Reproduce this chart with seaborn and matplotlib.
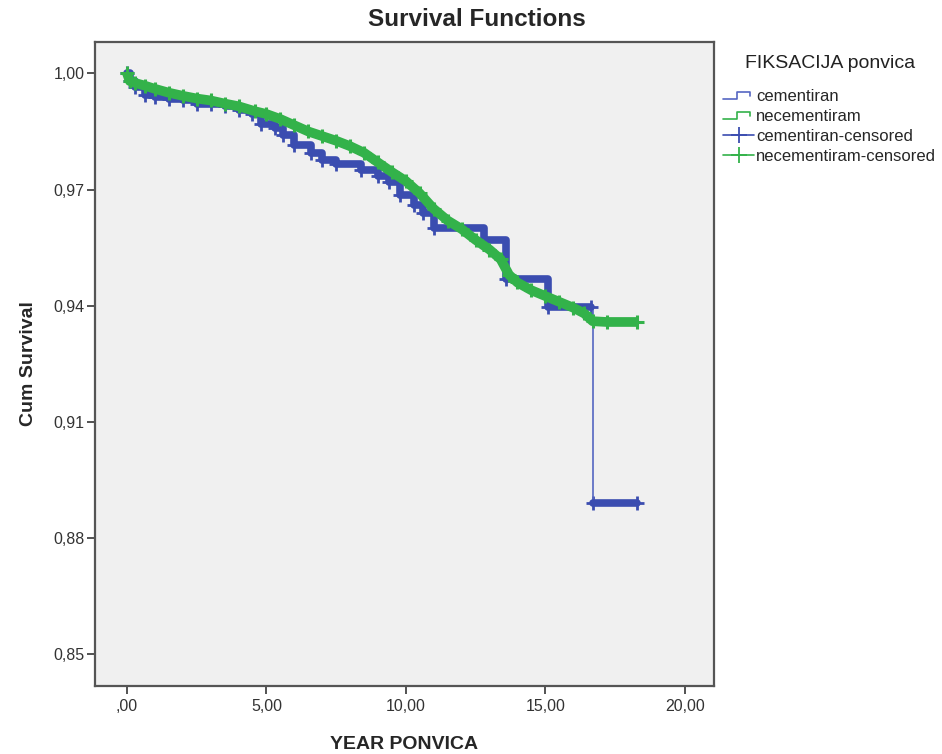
import numpy as np
import pandas as pd
import seaborn as sns
import matplotlib.pyplot as plt
from matplotlib.lines import Line2D
from matplotlib.legend_handler import HandlerBase

# Kaplan-Meier step knots (years, cum survival)
cem_time = [0.0, 0.1, 0.3, 0.65, 1.0, 1.5, 2.0, 2.5, 3.0, 3.5, 4.0, 4.5, 4.8,
            5.3, 5.6, 6.0, 6.6, 7.0, 7.5, 8.4, 9.0, 9.4, 9.8, 10.3, 10.6,
            11.0, 12.8, 13.6, 15.1, 16.65, 16.7, 16.72, 18.3]
cem_surv = [1.000, 0.998, 0.9965, 0.9945, 0.9938, 0.9934, 0.9930, 0.9922,
            0.9920, 0.9915, 0.9905, 0.9895, 0.9870, 0.9860, 0.9840, 0.9815,
            0.9795, 0.9775, 0.9765, 0.9750, 0.9735, 0.9720, 0.9685, 0.9660,
            0.9640, 0.9600, 0.9570, 0.9470, 0.9396, 0.9396, 0.915, 0.889, 0.889]

necem_time = [0.0, 0.1, 0.3, 0.65, 1.0, 1.5, 2.0, 2.5, 3.0, 3.5, 4.0, 4.6, 5.0,
              5.5, 6.0, 6.5, 7.0, 7.5, 8.0, 8.5, 9.0, 9.5, 10.0, 10.5, 11.0,
              11.5, 12.0, 12.5, 13.0, 13.4, 13.7, 14.0, 14.5, 15.0, 15.5, 16.0,
              16.4, 16.7, 17.2, 18.3]
necem_surv = [1.000, 0.998, 0.9975, 0.9968, 0.9960, 0.9950, 0.9942, 0.9935,
              0.9930, 0.9922, 0.9915, 0.9902, 0.9895, 0.9882, 0.9866, 0.9850,
              0.9838, 0.9826, 0.9812, 0.9795, 0.9770, 0.9745, 0.9722, 0.9690,
              0.9650, 0.9620, 0.9598, 0.9570, 0.9545, 0.9520, 0.9480, 0.9460,
              0.9440, 0.9425, 0.9410, 0.9395, 0.9380, 0.9360, 0.9358, 0.9358]

x_ticks = [0, 5, 10, 15, 20]
x_labels = [",00", "5,00", "10,00", "15,00", "20,00"]
y_ticks = [0.85, 0.88, 0.91, 0.94, 0.97, 1.00]
y_labels = ["0,85", "0,88", "0,91", "0,94", "0,97", "1,00"]

blue = "#3B4DB0"
blue_thin = "#5566C2"
green = "#33B24A"


class StepHandler(HandlerBase):
    # small step glyph like the SPSS legend
    def create_artists(self, legend, orig_handle, xdescent, ydescent,
                       width, height, fontsize, trans):
        fx = [0, 0.45, 0.45, 0.85, 0.85]
        fy = [0.15, 0.15, 0.8, 0.8, 0.45]
        xs = [-xdescent + v * width for v in fx]
        ys = [-ydescent + v * height for v in fy]
        return [Line2D(xs, ys, color=orig_handle.get_color(), linewidth=1.2,
                       transform=trans)]


sns.set_style("white")
plt.rcParams['font.family'] = ['Liberation Sans', 'DejaVu Sans']

cem = pd.DataFrame({"t": cem_time, "s": cem_surv})
necem = pd.DataFrame({"t": necem_time, "s": necem_surv})
# censored marks sit on the plateaus, not on the big drop at ~16.7 years
cem["seg"] = (cem["t"] >= 16.7).astype(int)
cem_cens = cem[(cem["t"] < 16.7) | (cem["t"] >= 16.72)]

fig = plt.figure(figsize=(9.42, 7.54), dpi=100)
ax = fig.add_axes([0.1008, 0.0902, 0.6571, 0.8541])
ax.set_facecolor("#F0F0F0")

# survival step lines
sns.lineplot(data=cem, x="t", y="s", estimator=None,
             drawstyle="steps-post", color=blue_thin, linewidth=1.2, ax=ax)
sns.lineplot(data=necem, x="t", y="s", estimator=None,
             color=green, linewidth=1.2, ax=ax)
# dense censoring marks appear as a thick band
sns.lineplot(data=cem_cens, x="t", y="s", units="seg", estimator=None,
             drawstyle="steps-post", color=blue, linewidth=5.5, ax=ax)
sns.scatterplot(data=cem_cens, x="t", y="s", marker="+", s=90,
                color=blue, linewidth=2, ax=ax)
sns.lineplot(data=necem, x="t", y="s", estimator=None,
             color=green, linewidth=7, solid_capstyle="butt", ax=ax)
sns.scatterplot(data=necem, x="t", y="s", marker="+", s=110,
                color=green, linewidth=2.2, ax=ax, zorder=5)

ax.set_xlim(-1.15, 21.05)
ax.set_ylim(0.8418, 1.0081)
ax.set_xticks(x_ticks)
ax.set_xticklabels(x_labels)
ax.set_yticks(y_ticks)
ax.set_yticklabels(y_labels)
ax.tick_params(axis="both", direction="out", length=5.5, width=1.3,
               color="#444444", labelsize=11.5, labelcolor="#333333",
               bottom=True, left=True)
ax.tick_params(axis="x", pad=4)
ax.tick_params(axis="y", pad=2)
for sp in ax.spines.values():
    sp.set_color("#555555")
    sp.set_linewidth(1.6)

ax.set_xlabel("YEAR PONVICA", fontsize=14, fontweight="bold", labelpad=16)
ax.set_ylabel("Cum Survival", fontsize=14, fontweight="bold", labelpad=12)
fig.text(0.506, 0.974, "Survival Functions", fontsize=17.5,
         fontweight="bold", ha="center", va="center")

h_cem = Line2D([], [], color=blue_thin)
h_necem = Line2D([], [], color=green)
handles = [
    h_cem,
    h_necem,
    Line2D([], [], color=blue, linewidth=1.2, marker="+", markersize=12,
           markeredgewidth=1.3),
    Line2D([], [], color=green, linewidth=1.2, marker="+", markersize=12,
           markeredgewidth=1.3),
]
labels = ["cementiran", "necementiram", "cementiran-censored",
          "necementiram-censored"]
fig.legend(handles, labels, loc="upper left", bbox_to_anchor=(0.768, 0.882),
           frameon=False, fontsize=12, handlelength=1.85, handletextpad=0.1,
           labelspacing=0.3, borderaxespad=0, borderpad=0,
           handler_map={h_cem: StepHandler(), h_necem: StepHandler()})
fig.text(830 / 942, 1 - 64 / 754, "FIKSACIJA ponvica", fontsize=14,
         ha="center", va="center", color="#222222")

fig.savefig("out.png", dpi=100)
